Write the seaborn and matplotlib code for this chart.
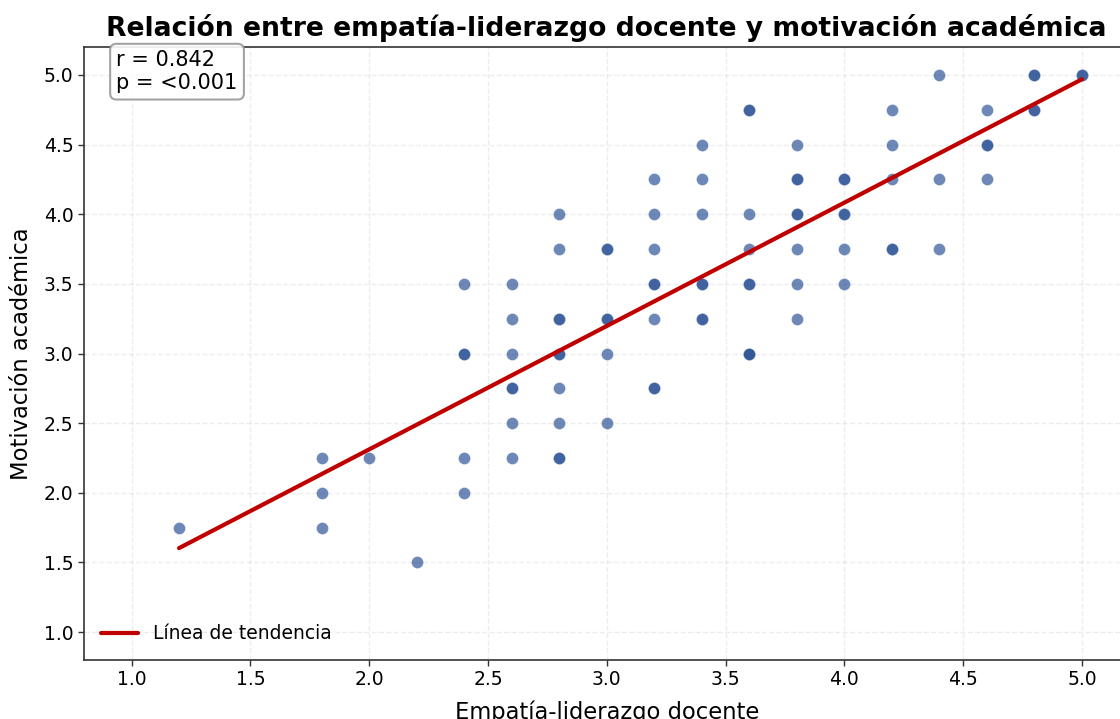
import numpy as np
import pandas as pd
import matplotlib
matplotlib.use('Agg')
import matplotlib.pyplot as plt
import seaborn as sns

# Empatia-liderazgo docente (x) vs motivacion academica (y); repeated pairs are overlapping points
empatia = [1.2, 1.8, 1.8, 1.8, 2.0, 2.2,
           2.4, 2.4, 2.4, 2.4, 2.4,
           2.6, 2.6, 2.6, 2.6, 2.6, 2.6, 2.6,
           2.8, 2.8, 2.8, 2.8, 2.8, 2.8, 2.8, 2.8, 2.8, 2.8,
           3.0, 3.0, 3.0, 3.0, 3.0, 3.0,
           3.2, 3.2, 3.2, 3.2, 3.2, 3.2, 3.2, 3.2,
           3.4, 3.4, 3.4, 3.4, 3.4, 3.4, 3.4,
           3.6, 3.6, 3.6, 3.6, 3.6, 3.6, 3.6, 3.6, 3.6,
           3.8, 3.8, 3.8, 3.8, 3.8, 3.8, 3.8, 3.8,
           4.0, 4.0, 4.0, 4.0, 4.0, 4.0,
           4.2, 4.2, 4.2, 4.2, 4.2,
           4.4, 4.4, 4.4,
           4.6, 4.6, 4.6, 4.6,
           4.8, 4.8, 4.8, 4.8,
           5.0, 5.0]
motivacion = [1.75, 2.25, 2.0, 1.75, 2.25, 1.5,
              3.5, 3.0, 3.0, 2.25, 2.0,
              3.5, 3.25, 3.0, 2.75, 2.75, 2.5, 2.25,
              4.0, 3.75, 3.25, 3.25, 3.0, 3.0, 2.75, 2.5, 2.25, 2.25,
              3.75, 3.75, 3.25, 3.25, 3.0, 2.5,
              4.25, 4.0, 3.75, 3.5, 3.5, 3.25, 2.75, 2.75,
              4.5, 4.25, 4.0, 3.5, 3.5, 3.25, 3.25,
              4.75, 4.75, 4.0, 3.75, 3.5, 3.5, 3.0, 3.0, 3.0,
              4.5, 4.25, 4.25, 4.0, 4.0, 3.75, 3.5, 3.25,
              4.25, 4.25, 4.0, 4.0, 3.75, 3.5,
              4.75, 4.5, 4.25, 3.75, 3.75,
              5.0, 4.25, 3.75,
              4.75, 4.5, 4.5, 4.25,
              5.0, 5.0, 4.75, 4.75,
              5.0, 5.0]
r_text = 'r = 0.842\np = <0.001'

df = pd.DataFrame({'Empatía-liderazgo docente': empatia,
                   'Motivación académica': motivacion})

sns.set_style('white')
plt.rcParams['font.family'] = ['DejaVu Sans']
plt.rcParams['text.color'] = 'black'
plt.rcParams['axes.labelcolor'] = 'black'
plt.rcParams['xtick.color'] = 'black'
plt.rcParams['ytick.color'] = 'black'

fig = plt.figure(figsize=(11.2, 7.19), dpi=100)
ax = fig.add_axes([84 / 1120, 59 / 719, 1045.5 / 1120, 613 / 719])

sns.scatterplot(data=df, x='Empatía-liderazgo docente', y='Motivación académica',
                color='#2f5597', alpha=0.7, s=75, edgecolor='white', linewidth=0.3, ax=ax)

# least squares trend line
slope, intercept = np.polyfit(df.iloc[:, 0], df.iloc[:, 1], 1)
x_line = np.array([df.iloc[:, 0].min(), df.iloc[:, 0].max()])
ax.plot(x_line, slope * x_line + intercept, color='#c00000', linewidth=3,
        label='Línea de tendencia')

ax.set_xlim(0.8, 5.2)
ax.set_ylim(0.8, 5.2)
ax.set_xticks(np.arange(1.0, 5.01, 0.5))
ax.set_yticks(np.arange(1.0, 5.01, 0.5))
ax.tick_params(axis='both', labelsize=13.5, length=4, width=1, color='#333333',
               labelcolor='black', left=True, bottom=True)
ax.grid(True, linestyle='--', alpha=0.35, linewidth=1)

for side in ['left', 'bottom', 'top', 'right']:
    ax.spines[side].set_color('#333333')
    ax.spines[side].set_linewidth(1.2)

ax.set_xlabel('Empatía-liderazgo docente', fontsize=16.3, labelpad=8)
ax.set_ylabel('Motivación académica', fontsize=16.3, labelpad=8)
ax.set_title('Relación entre empatía-liderazgo docente y motivación académica',
             fontsize=19.2, fontweight='bold', pad=8)

ax.text(0.031, 0.995, r_text, transform=ax.transAxes, fontsize=15, va='top', ha='left',
        bbox=dict(boxstyle='round,pad=0.3', facecolor='white', edgecolor='#999999',
                  linewidth=1.5, alpha=0.9))

ax.legend(loc='lower left', frameon=False, fontsize=13.5)

plt.savefig('out.png', dpi=100)
